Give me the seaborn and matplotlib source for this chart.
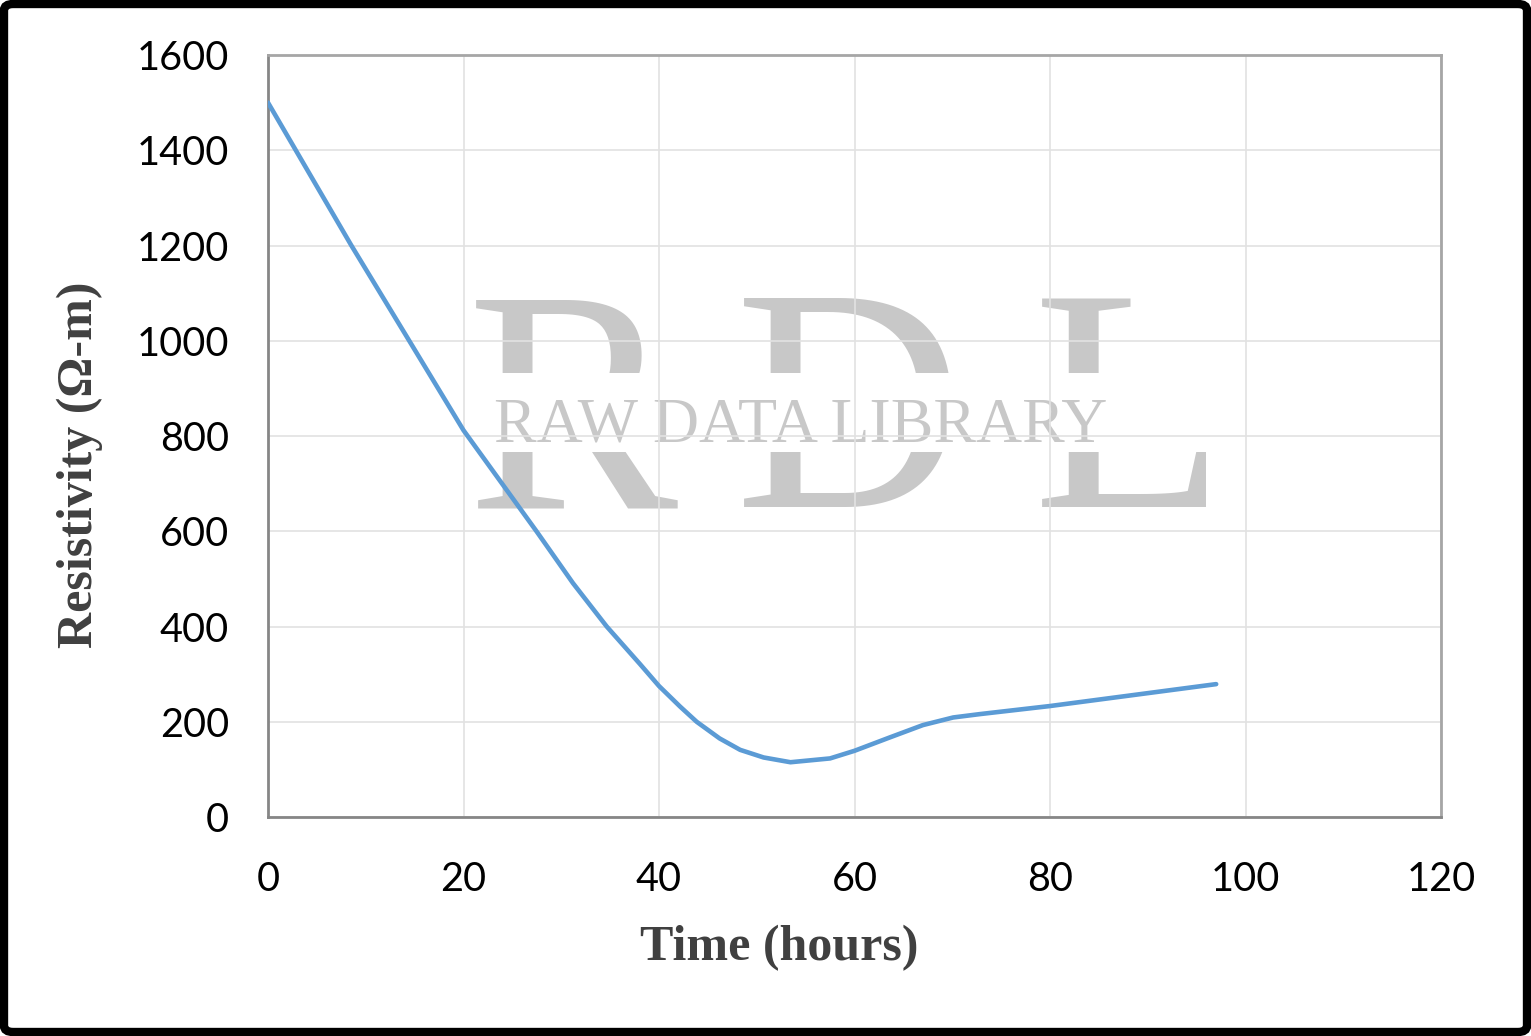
import pandas as pd
import matplotlib
matplotlib.use('Agg')
import matplotlib.pyplot as plt
import seaborn as sns
from matplotlib.patches import FancyBboxPatch
from matplotlib.transforms import Bbox

# values
time_hours = [0, 8.5, 14.3, 20, 27.5, 31.2, 34.65, 38.06, 40, 42.15,
              43.85, 46.2, 48.3, 50.7, 53.45, 57.5, 60, 63.6, 67, 70.1, 72.8, 80, 97]
resistivity = [1500, 1201, 1005, 812, 599, 491, 400, 321, 275, 232,
               200, 165, 141, 125, 115, 123, 139, 167, 193, 209, 216, 233, 279]
x_ticks = [0, 20, 40, 60, 80, 100, 120]
y_ticks = [0, 200, 400, 600, 800, 1000, 1200, 1400, 1600]

df = pd.DataFrame({'Time': time_hours, 'Resistivity': resistivity})

sns.set_style('white')
plt.rcParams['font.family'] = ['Lato', 'DejaVu Sans']

W, H = 1531, 1036
fig = plt.figure(figsize=(W/100, H/100), dpi=100)
ax = fig.add_axes([268/W, 1-817/H, (1441-268)/W, (817-55)/H])
ax.set_facecolor('none')

# watermark behind the plot: big RDL with a gap where the small text sits
upper = Bbox.from_extents(0, H-373, W, H)
lower = Bbox.from_extents(0, 0, W, H-452)
for letter, xc in [('R', 572), ('D', 849), ('L', 1130)]:
    for box in (upper, lower):
        t = fig.text(xc/W, 1-507/H, letter, fontsize=228, ha='center', va='baseline',
                     family='Liberation Serif', color='#c8c8c8', zorder=-3)
        t.set_clip_box(box)
        t.set_clip_on(True)
fig.text(801/W, 1-442/H, 'RAW DATA LIBRARY', fontsize=46, ha='center',
         va='baseline', family='Liberation Serif', color='#c8c8c8', zorder=-1)

sns.lineplot(data=df, x='Time', y='Resistivity', ax=ax, color='#5B9BD5',
             linewidth=3.3, solid_capstyle='round', solid_joinstyle='round', zorder=3)

ax.set_xlim(0, 120)
ax.set_ylim(0, 1600)
ax.set_xticks(x_ticks)
ax.set_yticks(y_ticks)
ax.grid(True, color='#e2e2e2', linewidth=1.2, zorder=1)
ax.set_axisbelow(True)
ax.tick_params(axis='both', direction='out', length=10, width=1.6, color='#868686',
               labelsize=28.5, labelcolor='black')
ax.tick_params(axis='y', pad=18)
ax.tick_params(axis='x', pad=22)
for side in ['left', 'bottom']:
    ax.spines[side].set_color('#868686')
    ax.spines[side].set_linewidth(2)
for side in ['top', 'right']:
    ax.spines[side].set_color('#a6a6a6')
    ax.spines[side].set_linewidth(2)
ax.set_xlabel('')
ax.set_ylabel('')

fig.text(779/W, 1-948/H, 'Time (hours)', fontsize=36, fontweight='bold',
         family='Liberation Serif', color='#404040', ha='center', va='center')
fig.text(80/W, 1-465/H, 'Resistivity (\u03a9-m)', fontsize=36, fontweight='bold',
         family='Liberation Serif', color='#404040', ha='center', va='center',
         rotation=90)

# black frame around the figure
fig.add_artist(FancyBboxPatch((4/W, 4/H), 1523/W, 1028/H,
                              boxstyle='round,pad=0,rounding_size=0.006',
                              transform=fig.transFigure, facecolor='none',
                              edgecolor='black', linewidth=6, zorder=10))

fig.savefig('out.png', dpi=100)
